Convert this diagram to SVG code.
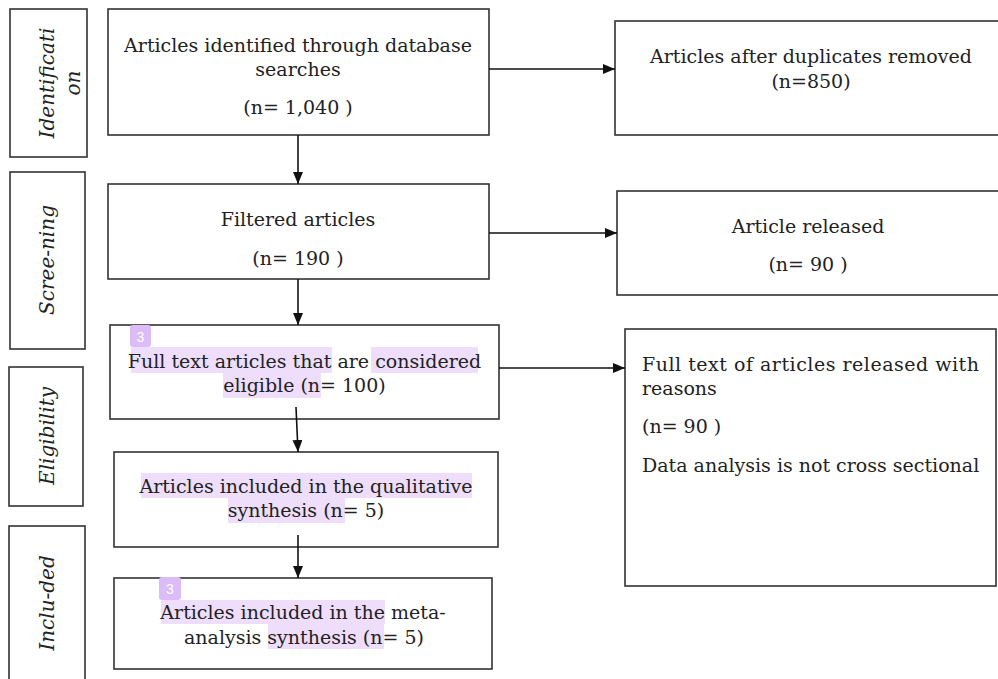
<svg xmlns="http://www.w3.org/2000/svg" width="998" height="679" viewBox="0 0 998 679">
<style>
.box{fill:#fff;stroke:#333;stroke-width:1.6}
.t{font-family:"DejaVu Serif","Liberation Serif",serif;font-size:19px;fill:#222}
.c{text-anchor:middle}
.side{font-family:"DejaVu Serif","Liberation Serif",serif;font-size:20px;font-style:italic;fill:#222;text-anchor:middle}
.hl{fill:#eedefc}
.badge{fill:#dbbcf7}
.bt{font-family:"Liberation Sans",Arial,sans-serif;font-size:14px;fill:#fff;text-anchor:middle}
.conn{stroke:#111;stroke-width:1.6;fill:none;marker-end:url(#ah)}
</style>
<defs>
<marker id="ah" viewBox="0 0 12 10" refX="12" refY="5" markerWidth="12" markerHeight="10" markerUnits="userSpaceOnUse" orient="auto">
<path d="M0,0 L12,5 L0,10 z" fill="#111"/>
</marker>
</defs>
<rect width="998" height="679" fill="#fff"/>

<g id="side-identification">
<rect class="box" x="10" y="9" width="77" height="148"/>
<text class="side" transform="translate(54,83) rotate(-90)">Identificati</text>
<text class="side" transform="translate(80,83) rotate(-90)">on</text>
</g>
<g id="side-screening">
<rect class="box" x="10" y="172" width="75" height="177"/>
<text class="side" transform="translate(54,260) rotate(-90)">Scree-ning</text>
</g>
<g id="side-eligibility">
<rect class="box" x="9" y="367" width="74" height="139"/>
<text class="side" transform="translate(54,436) rotate(-90)">Eligibility</text>
</g>
<g id="side-included">
<rect class="box" x="9" y="526" width="76" height="170"/>
<text class="side" transform="translate(54,603) rotate(-90)">Inclu-ded</text>
</g>

<g id="n1">
<rect class="box" x="108" y="9" width="381" height="126"/>
<text class="t c" x="298" y="52">Articles identified through database</text>
<text class="t c" x="298" y="76">searches</text>
<text class="t c" x="298" y="114">(n= 1,040 )</text>
</g>
<g id="n2">
<rect class="box" x="108" y="184" width="381" height="95"/>
<text class="t c" x="298" y="226">Filtered articles</text>
<text class="t c" x="298" y="265">(n= 190 )</text>
</g>
<g id="n3">
<rect class="box" x="110" y="325" width="389" height="94"/>
<rect class="hl" x="131" y="347" width="201" height="26"/>
<rect class="hl" x="371" y="347" width="107" height="26"/>
<rect class="hl" x="223" y="373" width="98" height="25"/>
<rect class="badge" x="130" y="325" width="21" height="22" rx="3"/>
<text class="bt" x="140.5" y="342">3</text>
<text class="t c" x="304.5" y="368">Full text articles that are considered</text>
<text class="t c" x="304.5" y="392">eligible (n= 100)</text>
</g>
<g id="n4">
<rect class="box" x="114" y="452" width="384" height="95"/>
<rect class="hl" x="141" y="473" width="331" height="25"/>
<rect class="hl" x="228" y="498" width="117" height="25"/>
<text class="t c" x="306" y="493">Articles included in the qualitative</text>
<text class="t c" x="306" y="517">synthesis (n= 5)</text>
</g>
<g id="n5">
<rect class="box" x="114" y="578" width="378" height="91"/>
<rect class="hl" x="161" y="600" width="224" height="24"/>
<rect class="hl" x="268" y="624" width="116" height="25"/>
<rect class="badge" x="159" y="577" width="22" height="23" rx="3"/>
<text class="bt" x="170" y="594">3</text>
<text class="t c" x="303" y="619">Articles included in the meta-</text>
<text class="t c" x="304" y="644">analysis synthesis (n= 5)</text>
</g>

<g id="r1">
<rect class="box" x="615" y="21" width="395" height="114"/>
<text class="t c" x="811" y="63">Articles after duplicates removed</text>
<text class="t c" x="811" y="88">(n=850)</text>
</g>
<g id="r2">
<rect class="box" x="617" y="191" width="395" height="104"/>
<text class="t c" x="808" y="233">Article released</text>
<text class="t c" x="808" y="271">(n= 90 )</text>
</g>
<g id="r3">
<rect class="box" x="625" y="329" width="371" height="257"/>
<text class="t" x="642" y="371" textLength="337" lengthAdjust="spacing">Full text of articles released with</text>
<text class="t" x="642" y="395">reasons</text>
<text class="t" x="642" y="433">(n= 90 )</text>
<text class="t" x="642" y="472">Data analysis is not cross sectional</text>
</g>

<g id="connectors">
<line class="conn" x1="489" y1="69" x2="615" y2="69"/>
<line class="conn" x1="489" y1="233" x2="617" y2="233"/>
<line class="conn" x1="499" y1="368" x2="625" y2="368"/>
<line class="conn" x1="298" y1="135" x2="298" y2="184"/>
<line class="conn" x1="298" y1="279" x2="298" y2="325"/>
<line class="conn" x1="296" y1="407" x2="298" y2="452"/>
<line class="conn" x1="298" y1="535" x2="298" y2="578"/>
</g>
</svg>
